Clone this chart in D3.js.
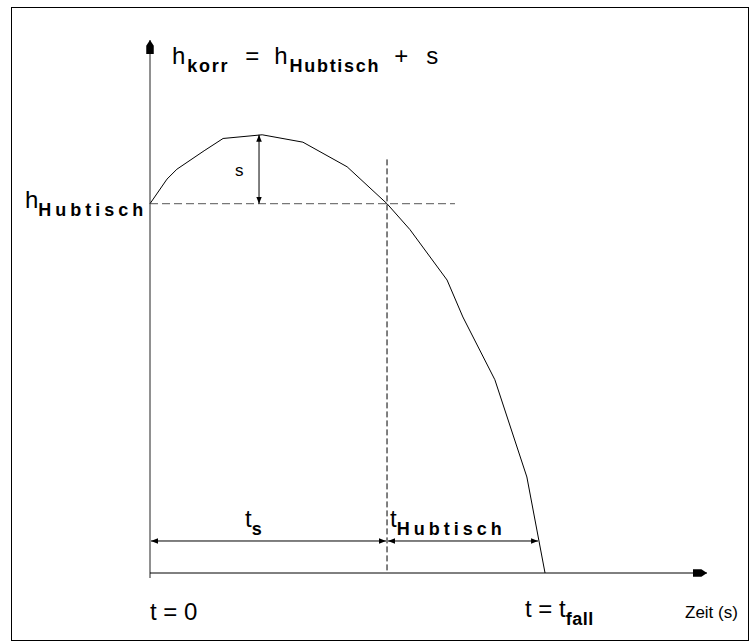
<!DOCTYPE html>
<html>
<head>
<meta charset="utf-8">
<script src="https://cdn.jsdelivr.net/npm/d3@7"></script>
<style>
  body { margin: 0; background: #fff; }
  text { font-family: "Liberation Sans", Arial, sans-serif; fill: #000; }
</style>
</head>
<body>
<div id="chart"></div>
<script>
// curve: height over time (schematic units)
var timeVals   = [0, 0.43, 0.68, 1.37, 1.85, 2.84, 3.87, 4.99, 6.0, 6.58, 7.52, 7.92, 8.73, 9.54, 10.0];
var heightVals = [3.0, 3.2, 3.28, 3.43, 3.53, 3.56, 3.5, 3.3, 3.0, 2.79, 2.38, 2.08, 1.57, 0.78, 0];

var tMax = 14.1, hMax = 4.33;
var hHubtisch = 3.0, tS = 6.0, tFall = 10.0;
var tPeak = 2.76, hPeak = 3.56;
var hDashTop = 3.36, tDashEnd = 7.72, hDim = 0.26;

var width = 756, height = 643;

var svg = d3.select("#chart").append("svg")
    .attr("width", width)
    .attr("height", height);

var x = d3.scaleLinear().domain([0, tMax]).range([150, 707]);
var y = d3.scaleLinear().domain([0, hMax]).range([573, 40]);

// markers
var defs = svg.append("defs");
defs.append("marker")
    .attr("id", "dimArrow")
    .attr("viewBox", "0 0 10 10")
    .attr("refX", 10).attr("refY", 5)
    .attr("markerWidth", 7).attr("markerHeight", 7)
    .attr("markerUnits", "userSpaceOnUse")
    .attr("orient", "auto-start-reverse")
  .append("path")
    .attr("d", "M0,1 L10,5 L0,9 Z")
    .attr("fill", "#000");
defs.append("marker")
    .attr("id", "axisArrow")
    .attr("viewBox", "0 0 16 10")
    .attr("refX", 15).attr("refY", 5)
    .attr("markerWidth", 15).attr("markerHeight", 10)
    .attr("markerUnits", "userSpaceOnUse")
    .attr("orient", "auto")
  .append("path")
    .attr("d", "M0,1 L9,1 L15,5 L9,9 L0,9 Z")
    .attr("fill", "#000");

// frame
svg.append("rect")
    .attr("x", 11.5).attr("y", 7.5)
    .attr("width", 737).attr("height", 633)
    .attr("fill", "none")
    .attr("stroke", "#000")
    .attr("stroke-width", 1);

// axes
svg.append("line")
    .attr("x1", x(0)).attr("y1", y(0) + 5)
    .attr("x2", x(0)).attr("y2", y(hMax))
    .attr("stroke", "#222")
    .attr("marker-end", "url(#axisArrow)");
svg.append("line")
    .attr("x1", x(0)).attr("y1", y(0))
    .attr("x2", x(tMax)).attr("y2", y(0))
    .attr("stroke", "#000")
    .attr("marker-end", "url(#axisArrow)");

// helper lines
svg.append("line")
    .attr("x1", x(0)).attr("y1", y(hHubtisch))
    .attr("x2", x(tDashEnd)).attr("y2", y(hHubtisch))
    .attr("stroke", "#777")
    .attr("stroke-width", 1.2)
    .attr("stroke-dasharray", "8,4");
svg.append("line")
    .attr("x1", x(tS)).attr("y1", y(hDashTop))
    .attr("x2", x(tS)).attr("y2", y(0))
    .attr("stroke", "#000")
    .attr("stroke-dasharray", "6,3");

// curve
var line = d3.line()
    .x(function(d) { return x(d[0]); })
    .y(function(d) { return y(d[1]); });
svg.append("path")
    .datum(timeVals.map(function(t, i) { return [t, heightVals[i]]; }))
    .attr("d", line)
    .attr("fill", "none")
    .attr("stroke", "#000")
    .attr("stroke-width", 1);

// s dimension
svg.append("line")
    .attr("x1", x(tPeak)).attr("y1", y(hPeak))
    .attr("x2", x(tPeak)).attr("y2", y(hHubtisch))
    .attr("stroke", "#000")
    .attr("marker-start", "url(#dimArrow)")
    .attr("marker-end", "url(#dimArrow)");

// time dimensions
svg.append("line")
    .attr("x1", x(0) + 1).attr("y1", y(hDim))
    .attr("x2", x(tS) - 1).attr("y2", y(hDim))
    .attr("stroke", "#000")
    .attr("marker-start", "url(#dimArrow)")
    .attr("marker-end", "url(#dimArrow)");
svg.append("line")
    .attr("x1", x(tS) + 1).attr("y1", y(hDim))
    .attr("x2", x(tFall) - 7).attr("y2", y(hDim))
    .attr("stroke", "#000")
    .attr("marker-start", "url(#dimArrow)")
    .attr("marker-end", "url(#dimArrow)");

// labels
function subLabel(px, py, main, sub, spacing) {
  var t = svg.append("text").attr("x", px).attr("y", py).style("font-size", "24px");
  t.append("tspan").text(main);
  t.append("tspan").attr("dy", 8).style("font-size", "18px")
    .style("font-weight", "bold").style("letter-spacing", spacing + "px").text(sub);
  return t;
}

var formula = svg.append("text").attr("x", 172).attr("y", 64).style("font-size", "24px");
formula.append("tspan").text("h");
formula.append("tspan").attr("dy", 8).attr("dx", 2).style("font-size", "18px").style("font-weight", "bold")
    .style("letter-spacing", "1.7px").text("korr");
formula.append("tspan").attr("dy", -8).attr("dx", 16).text("=");
formula.append("tspan").attr("dx", 15).text("h");
formula.append("tspan").attr("dy", 8).attr("dx", 2).style("font-size", "18px").style("font-weight", "bold")
    .style("letter-spacing", "1.7px").text("Hubtisch");
formula.append("tspan").attr("dy", -8).attr("dx", 14).text("+");
formula.append("tspan").attr("dx", 18).text("s");

subLabel(25, 208, "h", "Hubtisch", 4);

svg.append("text")
    .attr("x", x(tPeak) - 24).attr("y", y(hPeak) + 41)
    .style("font-size", "17px")
    .text("s");

subLabel(245, 527, "t", "s", 0);
subLabel(390, 527, "t", "Hubtisch", 4);

svg.append("text").attr("x", 150).attr("y", 620).style("font-size", "24px").text("t = 0");
subLabel(525, 617, "t = t", "fall", 0.5);

svg.append("text").attr("x", 685).attr("y", 618).style("font-size", "17px").text("Zeit (s)");
</script>
</body>
</html>
